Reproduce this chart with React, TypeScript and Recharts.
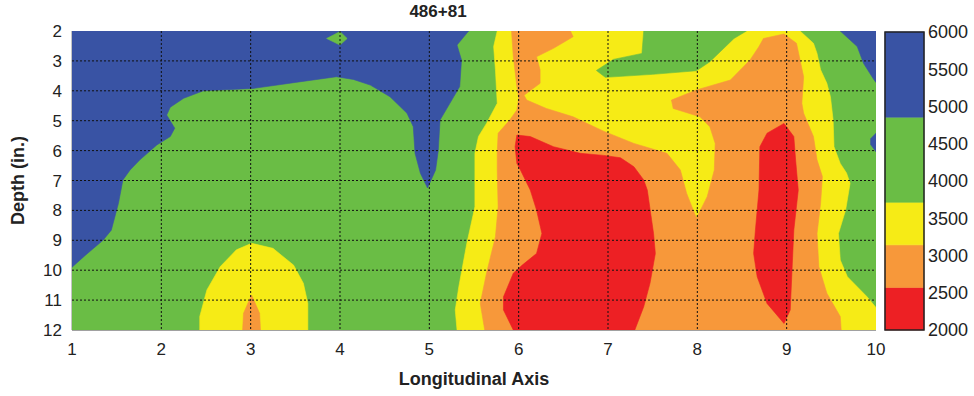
import React from "react";
import { ScatterChart, Scatter, XAxis, YAxis, CartesianGrid } from "recharts";

const BLUE = "#3953a4";
const GREEN = "#6abd45";
const YELLOW = "#f6eb16";
const ORANGE = "#f7983a";
const RED = "#ed2024";

type Pt = [number, number];

// axis ticks
const xTicks = [1, 2, 3, 4, 5, 6, 7, 8, 9, 10];
const depthTicks = [2, 3, 4, 5, 6, 7, 8, 9, 10, 11, 12];

// colour scale: contour levels and the colour between each pair
const levels = [2000, 2571, 3143, 3714, 4857, 6000];
const levelColors = [RED, ORANGE, YELLOW, GREEN, BLUE];
const scaleTicks = [2000, 2500, 3000, 3500, 4000, 4500, 5000, 5500, 6000];

// contour bands as [position, depth] outlines, painted back to front
const fullField: Pt[] = [[1, 2], [10, 2], [10, 12], [1, 12]];

const blueLeft: Pt[] = [
  [1, 2], [5.44, 2], [5.31, 2.47], [5.36, 2.97], [5.34, 3.86], [5.23, 4.42],
  [5.12, 4.98], [5.1, 6.0], [5.07, 6.65], [4.98, 7.25], [4.9, 6.76],
  [4.84, 6.09], [4.82, 5.2], [4.75, 4.75], [4.56, 4.2], [4.34, 3.81],
  [4.15, 3.62], [3.96, 3.53], [3.5, 3.72], [3.03, 3.92], [2.47, 4.0],
  [2.25, 4.25], [2.1, 4.55], [2.06, 4.81], [2.15, 5.25], [2.1, 5.53],
  [1.95, 5.81], [1.76, 6.31], [1.65, 6.65], [1.57, 6.98], [1.52, 7.76],
  [1.44, 8.66], [1.35, 8.99], [1.15, 9.5], [1, 9.9],
];

const greenDiamond: Pt[] = [[3.85, 2.25], [4.0, 2.02], [4.08, 2.25], [4.0, 2.47]];

const blueTopRight: Pt[] = [
  [9.6, 2], [10, 2], [10, 3.72], [9.97, 3.6], [9.86, 3.08], [9.79, 2.52],
];

const blueRightEdge: Pt[] = [[10, 5.42], [9.94, 5.6], [9.94, 5.8], [10, 6.04]];

const yellowMain: Pt[] = [
  [5.76, 2], [9.15, 2], [9.3, 2.41], [9.34, 2.75], [9.38, 3.3], [9.45, 3.75],
  [9.49, 4.2], [9.52, 4.98], [9.53, 5.87], [9.6, 6.43], [9.67, 6.75],
  [9.71, 7.09], [9.66, 7.99], [9.58, 8.77], [9.6, 9.66], [9.68, 10.22],
  [9.9, 10.89], [10, 11.25], [10, 12], [5.31, 12], [5.29, 11.33],
  [5.33, 10.55], [5.42, 9.1], [5.51, 7.88], [5.51, 6.65], [5.51, 6.09],
  [5.55, 5.53], [5.64, 5.09], [5.76, 4.42], [5.74, 3.3], [5.72, 2.52],
];

const greenTop: Pt[] = [
  [7.4, 2], [8.55, 2], [8.41, 2.25], [8.14, 3.03], [7.99, 3.33], [7.5, 3.45],
  [6.97, 3.55], [6.87, 3.32], [7.06, 2.95], [7.38, 2.75],
];

const yellowBubble: Pt[] = [
  [2.43, 12], [2.43, 11.55], [2.51, 10.66], [2.66, 9.88], [2.84, 9.32],
  [3.01, 9.1], [3.25, 9.27], [3.48, 9.83], [3.59, 10.44], [3.64, 11.11],
  [3.64, 12],
];

const orangeSpike: Pt[] = [[2.91, 12], [2.92, 11.44], [3.01, 10.83], [3.1, 11.44], [3.11, 12]];

const orangeMain: Pt[] = [
  [5.92, 2], [6.58, 2], [6.61, 2.19], [6.39, 2.58], [6.2, 2.86], [6.24, 3.3],
  [6.24, 3.75], [6.06, 4.15], [6.09, 4.31], [6.31, 4.59], [6.61, 4.87],
  [6.95, 5.35], [7.29, 5.76], [7.66, 6.09], [7.81, 6.65], [7.88, 7.43],
  [7.99, 8.26], [8.11, 7.54], [8.19, 6.65], [8.2, 5.76], [8.14, 5.2],
  [8.03, 4.87], [7.73, 4.59], [7.71, 4.31], [7.99, 3.97], [8.37, 3.64],
  [8.59, 2.97], [8.69, 2.52], [8.74, 2.25], [8.97, 2.1], [9.11, 2.41],
  [9.15, 2.97], [9.19, 3.53], [9.17, 4.42], [9.19, 4.75], [9.3, 5.53],
  [9.34, 6.31], [9.4, 6.87], [9.38, 7.76], [9.34, 8.77], [9.36, 9.88],
  [9.45, 10.77], [9.6, 11.55], [9.61, 12], [5.62, 12], [5.57, 11.11],
  [5.64, 10.1], [5.74, 8.88], [5.77, 7.88], [5.76, 6.65], [5.76, 6.09],
  [5.77, 5.42], [5.9, 4.98], [5.98, 4.64], [6.0, 4.25], [5.98, 3.86],
  [5.94, 2.86],
];

const redMain: Pt[] = [
  [5.98, 5.48], [6.13, 5.53], [6.39, 5.87], [6.69, 6.09], [6.95, 6.16],
  [7.14, 6.24], [7.29, 6.54], [7.4, 6.98], [7.44, 7.32], [7.51, 8.77],
  [7.53, 9.44], [7.47, 10.44], [7.4, 11.22], [7.3, 12], [5.94, 12],
  [5.83, 11.33], [5.83, 10.89], [5.94, 10.1], [6.04, 9.83], [6.2, 9.44],
  [6.26, 8.77], [6.2, 7.99], [6.13, 7.32], [6.02, 6.65], [5.98, 6.43],
  [5.96, 5.87],
];

const redRight: Pt[] = [
  [8.97, 5.09], [9.08, 5.53], [9.1, 6.31], [9.13, 7.32], [9.08, 8.66],
  [9.06, 9.99], [9.04, 11.33], [8.97, 11.78], [8.78, 11.11], [8.67, 10.22],
  [8.63, 9.44], [8.65, 8.66], [8.69, 7.32], [8.7, 5.87], [8.78, 5.42],
];

const fieldLayers: { id: string; pts: Pt[]; color: string }[] = [
  { id: "field", pts: fullField, color: GREEN },
  { id: "blueLeft", pts: blueLeft, color: BLUE },
  { id: "greenDiamond", pts: greenDiamond, color: GREEN },
  { id: "blueTopRight", pts: blueTopRight, color: BLUE },
  { id: "blueRightEdge", pts: blueRightEdge, color: BLUE },
  { id: "yellowMain", pts: yellowMain, color: YELLOW },
  { id: "greenTop", pts: greenTop, color: GREEN },
  { id: "yellowBubble", pts: yellowBubble, color: YELLOW },
  { id: "orangeSpike", pts: orangeSpike, color: ORANGE },
  { id: "orangeMain", pts: orangeMain, color: ORANGE },
  { id: "redMain", pts: redMain, color: RED },
  { id: "redRight", pts: redRight, color: RED },
];

const toXY = (pts: Pt[]) => pts.map(([x, y]) => ({ x, y }));

// Scatter hands its joined points to `line`; close them into a filled shape
const polygon = (fill: string, stroke = fill, strokeWidth = 0.6) => (props: any) => {
  const pts: { x: number; y: number }[] = props.points || [];
  const d = pts.map((p, i) => `${i ? "L" : "M"}${p.x},${p.y}`).join(" ") + " Z";
  return <path d={d} fill={fill} stroke={stroke} strokeWidth={strokeWidth} />;
};
const noDot = () => <g />;

const font = "'Liberation Sans', Arial, sans-serif";
const tickStyle = { fontSize: 17, fill: "#222" };

export default function App() {
  const bands = levelColors.map((color, i) => ({
    color,
    pts: [[0, levels[i]], [1, levels[i]], [1, levels[i + 1]], [0, levels[i + 1]]] as Pt[],
  }));
  const barFrame: Pt[] = [[0, levels[0]], [1, levels[0]], [1, levels[levels.length - 1]], [0, levels[levels.length - 1]]];

  return (
    <div style={{ position: "absolute", left: 0, top: 0, width: 974, height: 396, fontFamily: font, background: "#fff" }}>
      <div style={{ position: "absolute", left: 0, top: 2, width: 876, textAlign: "center", fontWeight: "bold", fontSize: 17, color: "#222" }}>
        486+81
      </div>
      <div style={{ position: "absolute", left: 0, top: 0 }}>
        <ScatterChart width={900} height={396} margin={{ top: 31, right: 24, bottom: 36, left: 12 }}>
          <XAxis
            type="number"
            dataKey="x"
            domain={[1, 10]}
            ticks={xTicks}
            allowDataOverflow
            height={30}
            tickLine={false}
            tickMargin={7}
            axisLine={{ stroke: "#444" }}
            tick={tickStyle}
            label={{ value: "Longitudinal Axis", position: "bottom", offset: 12, style: { fontSize: 18, fontWeight: "bold", fill: "#222" } }}
          />
          <YAxis
            type="number"
            dataKey="y"
            domain={[2, 12]}
            reversed
            ticks={depthTicks}
            allowDataOverflow
            width={60}
            tickLine={false}
            tickMargin={4}
            axisLine={{ stroke: "#888" }}
            tick={tickStyle}
            label={{ value: "Depth (in.)", angle: -90, position: "insideLeft", offset: 6, style: { textAnchor: "middle", fontSize: 18, fontWeight: "bold", fill: "#222" } }}
          />
          {fieldLayers.map((layer) => (
            <Scatter
              key={layer.id}
              data={toXY(layer.pts)}
              line={polygon(layer.color)}
              lineType="joint"
              shape={noDot}
              legendType="none"
              isAnimationActive={false}
            />
          ))}
          <CartesianGrid
            {...({ zIndex: 1000 } as any)}
            stroke="#111"
            strokeDasharray="2 2"
            verticalValues={xTicks.slice(1, -1)}
            horizontalValues={depthTicks.slice(1, -1)}
          />
        </ScatterChart>
      </div>
      <div style={{ position: "absolute", left: 870, top: 0 }}>
        <ScatterChart width={104} height={396} margin={{ top: 32, right: 0, bottom: 66, left: 15 }}>
          <XAxis type="number" dataKey="x" domain={[0, 1]} hide height={0} />
          <YAxis
            type="number"
            dataKey="y"
            orientation="right"
            domain={[levels[0], levels[levels.length - 1]]}
            ticks={scaleTicks}
            width={50}
            tickLine={false}
            axisLine={false}
            tickSize={2}
            tickMargin={2}
            tick={{ fontSize: 18, fill: "#222" }}
          />
          {bands.map((b) => (
            <Scatter
              key={b.color}
              data={toXY(b.pts)}
              line={polygon(b.color)}
              lineType="joint"
              shape={noDot}
              legendType="none"
              isAnimationActive={false}
            />
          ))}
          <Scatter
            data={toXY(barFrame)}
            line={polygon("none", "#222", 1.5)}
            lineType="joint"
            shape={noDot}
            legendType="none"
            isAnimationActive={false}
          />
        </ScatterChart>
      </div>
    </div>
  );
}
